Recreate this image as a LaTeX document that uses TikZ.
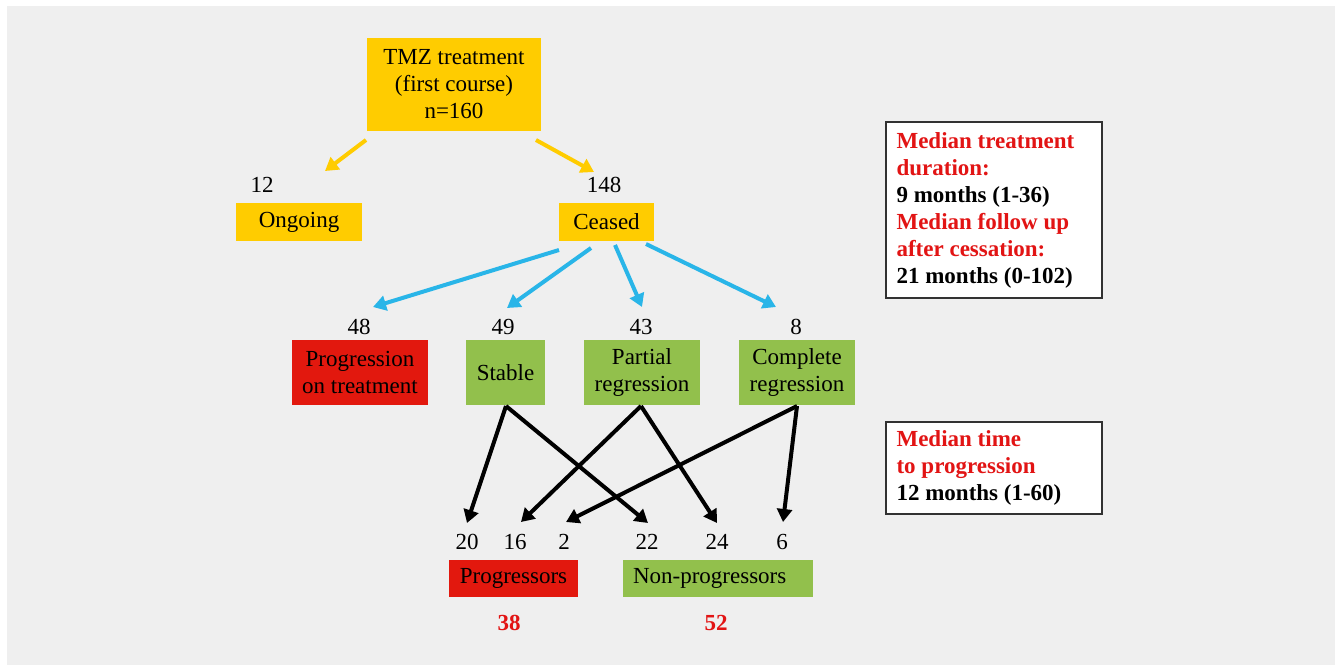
\documentclass[tikz,border=0pt]{standalone}
\usepackage{fontspec}
\setmainfont{Liberation Serif}
\usetikzlibrary{arrows.meta}
\definecolor{bgc}{RGB}{239,239,239}
\definecolor{ybox}{RGB}{255,204,0}
\definecolor{gbox}{RGB}{146,192,76}
\definecolor{rbox}{RGB}{226,24,14}
\definecolor{barr}{RGB}{41,181,232}
\definecolor{rtext}{RGB}{226,20,20}
\definecolor{frame}{RGB}{50,50,50}
\begin{document}
\begin{tikzpicture}[x=1pt,y=-1pt,
  txt/.style={font=\fontsize{23}{27}\selectfont},
  box/.style={txt, inner sep=0pt, align=center},
  num/.style={txt, inner sep=0pt},
  yarr/.style={draw=ybox, line width=4pt, -{Triangle[length=13pt,width=15pt]}},
  barrow/.style={draw=barr, line width=4pt, -{Triangle[length=13pt,width=15pt]}},
  karr/.style={draw=black, line width=4pt, -{Triangle[length=13pt,width=15pt]}},
  info/.style={draw=frame, line width=1.3pt, fill=white, inner sep=0pt},
  infotext/.style={font=\fontsize{23}{27}\selectfont\bfseries, align=left, inner sep=0pt, anchor=west}
]
\useasboundingbox (0,0) rectangle (1335,665);
\fill[white] (0,0) rectangle (1335,665);
\fill[bgc] (7,6) rectangle (1335,665);

% top level
\node[box, fill=ybox, minimum width=174pt, minimum height=93pt] (tmz) at (454,84.5) {TMZ treatment\\(first course)\\n=160};
\node[num] (n12) at (262,185) {12};
\node[num] (n148) at (604,185) {148};
\node[box, fill=ybox, minimum width=126pt, minimum height=38pt] (ongoing) at (299,222) {Ongoing};
\node[box, fill=ybox, minimum width=95pt, minimum height=38pt] (ceased) at (606.5,222) {Ceased};

\coordinate (y1s) at (366,140);
\coordinate (y1e) at (325,171);
\coordinate (y2s) at (536,140);
\coordinate (y2e) at (594,172);
\draw[yarr] (y1s) -- (y1e);
\draw[yarr] (y2s) -- (y2e);

% second level
\node[num] (n48) at (359,327) {48};
\node[num] (n49) at (503,327) {49};
\node[num] (n43) at (641,327) {43};
\node[num] (n8) at (796,327) {8};
\node[box, fill=rbox, minimum width=136pt, minimum height=65pt] (prog) at (360,372.5) {Progression\\on treatment};
\node[box, fill=gbox, minimum width=79pt, minimum height=65pt] (stable) at (505.5,372.5) {Stable};
\node[box, fill=gbox, minimum width=116pt, minimum height=65pt] (partial) at (642,372.5) {Partial\\regression};
\node[box, fill=gbox, minimum width=116pt, minimum height=65pt] (complete) at (797,372.5) {Complete\\regression};

\coordinate (b1s) at (559,250);
\coordinate (b1e) at (373,307);
\coordinate (b2s) at (591,248);
\coordinate (b2e) at (507,308);
\coordinate (b3s) at (615,245);
\coordinate (b3e) at (642,307);
\coordinate (b4s) at (646,244);
\coordinate (b4e) at (776,307);
\draw[barrow] (b1s) -- (b1e);
\draw[barrow] (b2s) -- (b2e);
\draw[barrow] (b3s) -- (b3e);
\draw[barrow] (b4s) -- (b4e);

% third level
\node[num] (n20) at (467,542) {20};
\node[num] (n16) at (515,542) {16};
\node[num] (n2) at (564,542) {2};
\node[num] (n22) at (647,542) {22};
\node[num] (n24) at (717,542) {24};
\node[num] (n6) at (782,542) {6};

\coordinate (sa) at (506,406);
\coordinate (pa) at (641,406);
\coordinate (ca) at (797,406);
\coordinate (t20) at (467,523);
\coordinate (t16) at (521,522);
\coordinate (t2) at (566,522);
\coordinate (t22) at (648,523);
\coordinate (t24) at (717,523);
\coordinate (t6) at (783,522);
\draw[karr] (sa) -- (t20);
\draw[karr] (sa) -- (t22);
\draw[karr] (pa) -- (t16);
\draw[karr] (pa) -- (t24);
\draw[karr] (ca) -- (t2);
\draw[karr] (ca) -- (t6);

\node[box, fill=rbox, minimum width=129pt, minimum height=37pt] (progr) at (513.5,578.5) {Progressors};
\node[box, fill=gbox, minimum width=190pt, minimum height=37pt, text width=170pt, align=left] (nonprog) at (718,578.5) {Non-progressors};
\node[num, font=\fontsize{23}{27}\selectfont\bfseries, text=rtext] (t38) at (509,623) {38};
\node[num, font=\fontsize{23}{27}\selectfont\bfseries, text=rtext] (t52) at (716,623) {52};

% info boxes
\node[info, minimum width=216pt, minimum height=176pt] (info1) at (994,210) {};
\node[infotext] (info1t) at ([xshift=11pt]info1.west) {\textcolor{rtext}{Median treatment}\\\textcolor{rtext}{duration:}\\9 months (1-36)\\\textcolor{rtext}{Median follow up}\\\textcolor{rtext}{after cessation:}\\21 months (0-102)};
\node[info, minimum width=216pt, minimum height=92pt] (info2) at (994,468) {};
\node[infotext] (info2t) at ([xshift=11pt]info2.west) {\textcolor{rtext}{Median time}\\\textcolor{rtext}{to progression}\\12 months (1-60)};
\end{tikzpicture}
\end{document}
